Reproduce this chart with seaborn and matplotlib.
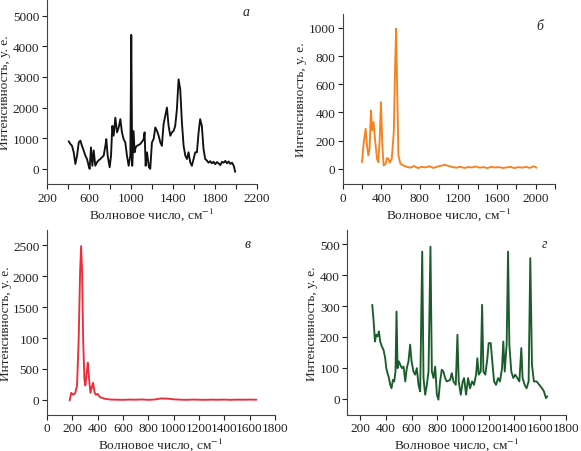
import matplotlib
matplotlib.use("Agg")
import matplotlib.pyplot as plt
import seaborn as sns
import pandas as pd

# ---------------- data ----------------
a_x = [406, 420, 438, 454, 470, 486, 502, 518, 533, 549, 565, 581, 597, 606, 619, 632, 645, 660, 676,
       692, 708, 724, 740, 756, 765, 778, 797, 810, 822, 835, 851, 867, 883, 899, 914, 930, 946, 962,
       978, 994, 1003, 1012, 1025, 1035, 1045, 1057, 1073, 1089, 1105, 1121, 1130, 1140, 1153, 1162,
       1172, 1184, 1200, 1216, 1232, 1248, 1264, 1280, 1295, 1311, 1327, 1343, 1359, 1375, 1391, 1407,
       1422, 1438, 1454, 1470, 1486, 1502, 1518, 1534, 1549, 1565, 1581, 1597, 1613, 1629, 1645, 1660,
       1676, 1692, 1708, 1724, 1740, 1756, 1772, 1788, 1804, 1820, 1836, 1852, 1868, 1884, 1900, 1916,
       1932, 1948, 1964, 1980, 1994]
a_y = [900, 820, 750, 540, 160, 430, 860, 920, 750, 600, 430, 320, 100, 0, 700, 100, 600, 100, 215,
       280, 320, 380, 430, 750, 970, 430, 50, 430, 1400, 1080, 1670, 1190, 1350, 1620, 1190, 970, 860, 430,
       100, 430, 4370, 100, 1230, 540, 700, 750, 780, 810, 880, 970, 1190, 100, 540, 300,
       50, 0, 860, 970, 1350, 1240, 1080, 860, 750, 1460, 1730, 2000, 1400, 1080, 1190, 1240,
       1400, 1940, 2920, 2590, 1510, 750, 430, 320, 540, 215, 100, 320, 540, 540, 1190, 1620,
       1400, 650, 320, 270, 200, 250, 180, 230, 150, 220, 180, 120, 230, 200, 260, 180,
       240, 160, 200, 100, -100]

b_x = [200, 214, 237, 251, 265, 278, 292, 306, 320, 334, 355, 369, 383, 396, 410, 424, 445, 459, 473,
       487, 508, 529, 543, 553, 563, 577, 598, 626, 660, 700, 740, 780, 820, 860, 900, 940, 980, 1020,
       1060, 1100, 1140, 1180, 1220, 1260, 1300, 1340, 1380, 1420, 1460, 1500, 1540, 1580, 1620, 1660,
       1700, 1740, 1780, 1820, 1860, 1900, 1940, 1980, 2010]
b_y = [47, 166, 285, 166, 95, 142, 415, 273, 332, 213, 71, 47, 213, 474, 166, 24, 36, 76, 71,
       43, 71, 260, 735, 995, 616, 95, 36, 24, 15, 8, 20, 5, 14, 10, 18, 6, 15, 22,
       28, 20, 12, 8, 14, 6, 12, 10, 16, 8, 12, 5, 14, 9, 12, 6,
       10, 14, 5, 12, 8, 14, 6, 18, 8]

c_x = [178, 191, 207, 223, 237, 250, 261, 269, 277, 285, 295, 303, 314, 322, 332, 343, 354, 364, 375,
       386, 399, 418, 458, 500, 550, 600, 650, 700, 750, 800, 850, 900, 950, 1000, 1050, 1100, 1150,
       1200, 1250, 1300, 1350, 1400, 1450, 1500, 1550, 1600, 1654]
c_y = [-11, 113, 81, 113, 232, 988, 2068, 2489, 2068, 988, 340, 232, 448, 600, 340, 113, 205, 275, 124,
       81, 97, 43, 16, 5, 2, 0, 4, 2, 6, 0, 5, 22, 20, 8, 3, 0, 4,
       2, 0, 3, 1, 4, 0, 3, 2, 4, 2]
c_ticklabels = ["0", "500", "100", "1500", "2000", "2500"]

d_x = [293, 304, 314, 324, 335, 345, 355, 368, 381, 394, 402, 412, 423, 433, 443, 454, 464, 474, 482,
       490, 500, 511, 524, 537, 550, 562, 575, 588, 599, 614, 627, 640, 653, 666, 682, 692, 705, 718,
       731, 746, 757, 770, 783, 796, 808, 821, 834, 847, 860, 873, 899, 912, 925, 943, 956, 966, 982,
       997, 1008, 1023, 1039, 1054, 1070, 1085, 1101, 1111, 1122, 1137, 1148, 1158, 1173, 1189, 1199,
       1215, 1225, 1241, 1256, 1272, 1287, 1303, 1313, 1324, 1339, 1350, 1360, 1375, 1391, 1406, 1422,
       1438, 1453, 1463, 1479, 1494, 1510, 1523, 1536, 1551, 1572, 1593, 1614, 1629, 1645, 1655]
d_y = [304, 250, 185, 207, 202, 218, 185, 169, 158, 131, 99, 83, 67, 45, 34, 61, 56, 88, 282,
       99, 121, 110, 99, 104, 56, 99, 121, 175, 121, 88, 78, 99, 45, 24, 476, 67, 13, 45,
       88, 492, 88, 67, 104, 13, -3, 56, 94, 88, 67, 56, 61, 83, 56, 45, 207, 56, 13,
       56, 67, 13, 67, 34, 56, 45, 78, 131, 78, 88, 304, 88, 78, 131, 180,
       180, 131, 56, 45, 67, 56, 99, 185, 88, 175, 476, 175, 88, 67, 78, 67,
       56, 164, 67, 45, 34, 56, 455, 110, 56, 56, 45, 34, 24, 2, 8]

x_label = "Волновое число, см$^{-1}$"
y_label = "Интенсивность, у. е."
panel_letters = ["а", "б", "в", "г"]
colors = ["#111111", "#F58220", "#EC2D3A", "#1A5C2C"]

# ---------------- styling ----------------
sns.set_style("ticks")
plt.rcParams["font.family"] = ["Liberation Serif", "DejaVu Serif"]
plt.rcParams["mathtext.fontset"] = "stix"
plt.rcParams["font.size"] = 9.5
plt.rcParams["axes.linewidth"] = 0.8
plt.rcParams["xtick.major.size"] = 3.5
plt.rcParams["ytick.major.size"] = 3.5
plt.rcParams["xtick.color"] = "#222222"
plt.rcParams["ytick.color"] = "#222222"
plt.rcParams["axes.edgecolor"] = "#444444"

fig = plt.figure(figsize=(5.81, 4.52), dpi=100)
rects = [
    [0.081, 0.591, 0.361, 0.407],
    [0.590, 0.591, 0.365, 0.376],
    [0.081, 0.080, 0.392, 0.409],
    [0.598, 0.080, 0.376, 0.409],
]
series = [(a_x, a_y), (b_x, b_y), (c_x, c_y), (d_x, d_y)]
xlims = [(200, 2200), (0, 2200), (0, 1800), (100, 1800)]
ylims = [(-490, 5510), (-107, 1100), (-243, 2750), (-52, 546)]
xticks = [list(range(200, 2201, 200)), list(range(0, 2201, 200)),
          list(range(0, 1801, 200)), list(range(200, 1801, 200))]
xlabels = [[str(t) if (t - 200) % 400 == 0 else "" for t in xticks[0]],
           [str(t) if t % 400 == 0 and t <= 2000 else "" for t in xticks[1]],
           [str(t) for t in xticks[2]],
           [str(t) for t in xticks[3]]]
yticks = [list(range(0, 5001, 1000)), list(range(0, 1001, 200)),
          list(range(0, 2501, 500)), list(range(0, 501, 100))]
ylabels = [[str(t) for t in yticks[0]], [str(t) for t in yticks[1]],
           c_ticklabels, [str(t) for t in yticks[3]]]
letter_pos = [(0.95, 0.97), (0.93, 0.97), (0.88, 0.96), (0.90, 0.96)]

for i in range(4):
    ax = fig.add_axes(rects[i])
    df = pd.DataFrame({"x": series[i][0], "y": series[i][1]})
    sns.lineplot(data=df, x="x", y="y", ax=ax, color=colors[i], linewidth=1.35,
                 sort=False, estimator=None)
    ax.set_xlim(*xlims[i])
    ax.set_ylim(*ylims[i])
    ax.set_xticks(xticks[i])
    ax.set_xticklabels(xlabels[i])
    ax.set_yticks(yticks[i])
    ax.set_yticklabels(ylabels[i])
    ax.set_xlabel(x_label, fontsize=9.6, labelpad=1)
    ax.set_ylabel(y_label, fontsize=9.6, labelpad=1)
    ax.tick_params(axis="both", labelsize=9.5, pad=2, width=0.8)
    sns.despine(ax=ax)
    ax.text(letter_pos[i][0], letter_pos[i][1], panel_letters[i], transform=ax.transAxes,
            fontsize=10, style="italic", ha="center", va="top")

fig.savefig("out.png", dpi=100)
